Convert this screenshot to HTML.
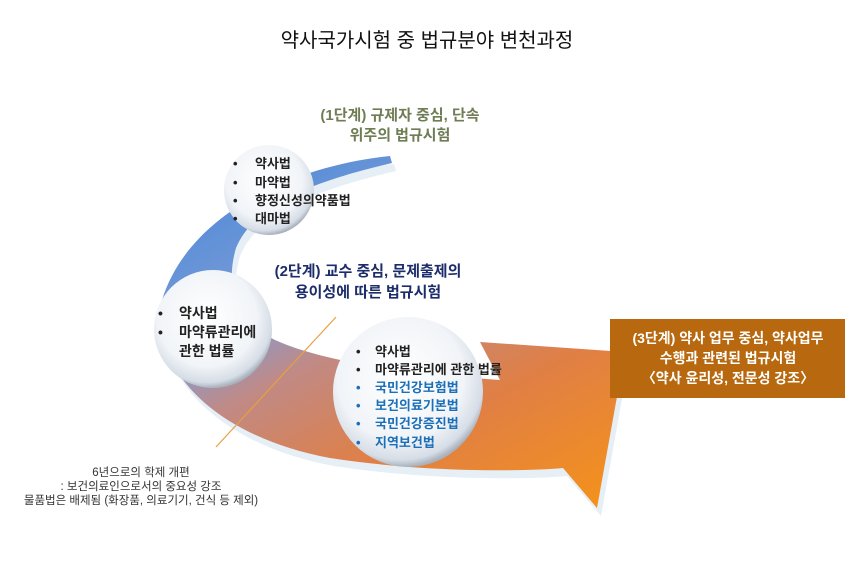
<!DOCTYPE html>
<html><head><meta charset="utf-8"><style>
body{margin:0;background:#fff;}
svg text{font-family:"Liberation Sans","Noto Sans CJK KR",sans-serif;}
</style></head><body>
<svg width="854" height="560" viewBox="0 0 854 560" xmlns="http://www.w3.org/2000/svg">
<defs>
<linearGradient id="band" x1="0.2" y1="0" x2="0.9" y2="1">
<stop offset="0" stop-color="#4f8ad8"/>
<stop offset="0.3" stop-color="#7f9dd6"/>
<stop offset="0.45" stop-color="#c08a86"/>
<stop offset="0.7" stop-color="#e07f45"/>
<stop offset="1" stop-color="#f3901e"/>
</linearGradient>
<radialGradient id="circ" cx="0.45" cy="0.4" r="0.6">
<stop offset="0" stop-color="#ffffff"/>
<stop offset="0.7" stop-color="#f1f4f8"/>
<stop offset="0.92" stop-color="#d6dde6"/>
<stop offset="1" stop-color="#a9b2bd"/>
</radialGradient>
</defs>
<text x="427" y="47" font-size="20" text-anchor="middle" fill="#111">약사국가시험  중  법규분야  변천과정</text>
<path d="M390,156 C300,165 190,210 162,300 C150,380 230,440 330,458 C420,472 520,472 563,468 L597,508 L625,352 L480,342 L500,380 C430,375 330,365 275,340 C232,318 226,282 236,248 C255,202 320,180 392,163 Z" fill="#e6eef6" transform="translate(4,8)"/>
<path d="M390,156 C300,165 190,210 162,300 C150,380 230,440 330,458 C420,472 520,472 563,468 L597,508 L625,352 L480,342 L500,380 C430,375 330,365 275,340 C232,318 226,282 236,248 C255,202 320,180 392,163 Z" fill="url(#band)"/>
<line x1="216" y1="447" x2="336" y2="317" stroke="#e8a040" stroke-width="1.2"/>
<text x="400" y="120" font-size="15" font-weight="bold" fill="#6f7d55" text-anchor="middle">(1단계) 규제자 중심, 단속</text>
<text x="400" y="140" font-size="15" font-weight="bold" fill="#6f7d55" text-anchor="middle">위주의 법규시험</text>
<circle cx="269" cy="190" r="45" fill="url(#circ)"/>
<g font-size="13" font-weight="bold" fill="#222">
<text x="233" y="168">•</text><text x="255" y="168">약사법</text>
<text x="233" y="187">•</text><text x="255" y="187">마약법</text>
<text x="233" y="205">•</text><text x="255" y="205">향정신성의약품법</text>
<text x="233" y="223">•</text><text x="255" y="223">대마법</text>
</g>
<text x="368" y="276" font-size="15" font-weight="bold" fill="#1d2d6b" text-anchor="middle">(2단계) 교수 중심, 문제출제의</text>
<text x="368" y="297" font-size="15" font-weight="bold" fill="#1d2d6b" text-anchor="middle">용이성에 따른 법규시험</text>
<circle cx="213" cy="329" r="59" fill="url(#circ)"/>
<g font-size="14" font-weight="bold" fill="#222">
<text x="158" y="318">•</text><text x="179" y="318">약사법</text>
<text x="158" y="337">•</text><text x="179" y="337">마약류관리에</text>
<text x="179" y="356">관한 법률</text>
</g>
<circle cx="408" cy="392" r="75" fill="url(#circ)"/>
<g font-size="13" font-weight="bold">
<text x="356" y="356" fill="#222">•</text><text x="375" y="356" fill="#222">약사법</text>
<text x="356" y="374" fill="#222">•</text><text x="375" y="374" fill="#222">마약류관리에 관한 법률</text>
<text x="356" y="392" fill="#1a6fb8">•</text><text x="375" y="392" fill="#1a6fb8">국민건강보험법</text>
<text x="356" y="410" fill="#1a6fb8">•</text><text x="375" y="410" fill="#1a6fb8">보건의료기본법</text>
<text x="356" y="428" fill="#1a6fb8">•</text><text x="375" y="428" fill="#1a6fb8">국민건강증진법</text>
<text x="356" y="447" fill="#1a6fb8">•</text><text x="375" y="447" fill="#1a6fb8">지역보건법</text>
</g>
<rect x="610" y="319" width="235" height="79" fill="#b8690f"/>
<g font-size="14" font-weight="bold" fill="#fff" text-anchor="middle">
<text x="728" y="343">(3단계) 약사 업무 중심, 약사업무</text>
<text x="728" y="363">수행과 관련된 법규시험</text>
<text x="728" y="383">〈약사 윤리성, 전문성 강조〉</text>
</g>
<g font-size="11.5" fill="#333" text-anchor="middle">
<text x="141" y="476">6년으로의 학제 개편</text>
<text x="141" y="490">: 보건의료인으로서의 중요성 강조</text>
<text x="141" y="504">물품법은 배제됨 (화장품, 의료기기, 건식 등 제외)</text>
</g>
</svg>
</body></html>
